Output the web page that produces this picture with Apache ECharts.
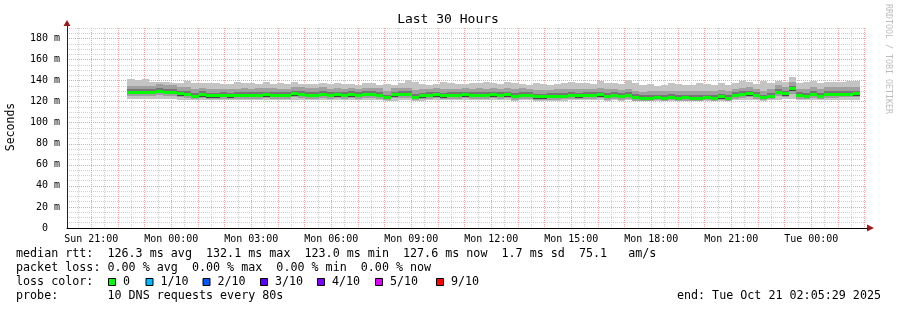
<!DOCTYPE html>
<html><head><meta charset="utf-8">
<script src="https://cdn.jsdelivr.net/npm/echarts@6/dist/echarts.min.js"></script>
<style>html,body{margin:0;padding:0;background:#fff}#c{width:897px;height:310px}</style>
</head><body><div id="c"></div>
<script>
// ---- time frame, in hours since Sun Oct 19 2025 00:00 ----
const viewStart = 20 + 5 / 60 + 29 / 3600;   // Sun 20:05:29
const viewEnd = viewStart + 30;              // Tue 02:05:29
const firstStep = 22 + 21 / 60 + 30 / 3600;  // Sun 22:21:30
const stepHours = 960 / 3600;
const dayNames = ['Sun', 'Mon', 'Tue'];

// ---- smoke data (ms), one value per step ----
const median = [128.8,128.8,128.8,128.8,130.0,129.0,129.0,127.6,127.0,125.4,
126.7,125.6,125.6,125.8,125.6,125.8,126.3,125.8,126.2,126.6,
126.2,126.0,125.9,127.6,127.2,126.3,126.3,127.0,126.0,126.5,
125.9,126.7,126.0,126.9,126.8,126.2,123.8,126.5,126.8,126.8,
124.2,125.5,125.8,126.6,125.5,126.0,125.8,126.4,125.9,126.3,
126.0,126.4,126.0,126.5,125.3,126.2,126.0,124.6,124.6,125.0,
125.2,125.4,126.0,125.6,126.0,125.8,126.5,125.3,125.8,125.0,
126.0,124.0,123.0,123.4,123.8,123.4,124.0,123.5,123.8,123.5,
123.5,123.8,123.4,124.5,123.5,125.8,126.8,127.6,126.0,123.8,
125.4,129.1,127.6,132.1,126.0,125.4,127.0,125.4,127.0,127.0,
127.3,127.3,127.6];
const smokeMax = [142,141,142,139,138.5,139,138,137.5,140,138,
137.5,138,138,136.5,137,139,138,138,137,139,
137,138,137,138.5,137,137,137,137.5,136.5,138,
137,137,136,138,137.5,136,137,136,138,140.5,
138.5,137,136,136.5,139,138,137,137,137.5,138,
139,138,137,139,138,137,136,138,137,136,
137,138,139,137.5,138,137,140,137.5,138,137,
140.5,138,136,137,135,136,138,137,136,136,
138,137,136,138,136,138,139.5,138.5,137,140,
138,140,139,143,138,139,140,138,139,139,
138.5,140,140];
const smokeHi1 = [135.3,135.3,135.3,135.3,136.5,135.5,135.5,134.1,133.5,131.9,
133.2,132.1,132.1,132.3,132.1,132.3,132.8,132.3,132.7,133.1,
132.7,132.5,132.4,134.1,133.7,132.8,132.8,133.5,132.5,133.0,
132.4,133.2,132.5,133.4,133.3,132.7,130.3,133.0,133.3,133.3,
130.7,132.0,132.3,133.1,132.0,132.5,132.3,132.9,132.4,132.8,
132.5,132.9,132.5,133.0,131.8,132.7,132.5,131.1,131.1,131.5,
131.7,131.9,132.5,132.1,132.5,132.3,133.0,131.8,132.3,131.5,
132.5,130.5,129.5,129.9,130.3,129.9,130.5,130.0,130.3,130.0,
130.0,130.3,129.9,131.0,130.0,132.3,133.3,134.1,132.5,130.3,
131.9,135.6,134.1,138.6,132.5,131.9,133.5,131.9,133.5,133.5,
133.8,133.8,134.1];
const smokeHi2 = [131.8,131.8,131.8,131.8,133.0,132.0,132.0,130.6,130.0,128.4,
129.7,128.6,128.6,128.8,128.6,128.8,129.3,128.8,129.2,129.6,
129.2,129.0,128.9,130.6,130.2,129.3,129.3,130.0,129.0,129.5,
128.9,129.7,129.0,129.9,129.8,129.2,126.8,129.5,129.8,129.8,
127.2,128.5,128.8,129.6,128.5,129.0,128.8,129.4,128.9,129.3,
129.0,129.4,129.0,129.5,128.3,129.2,129.0,127.6,127.6,128.0,
128.2,128.4,129.0,128.6,129.0,128.8,129.5,128.3,128.8,128.0,
129.0,127.0,126.0,126.4,126.8,126.4,127.0,126.5,126.8,126.5,
126.5,126.8,126.4,127.5,126.5,128.8,129.8,130.6,129.0,126.8,
128.4,132.1,130.6,135.1,129.0,128.4,130.0,128.4,130.0,130.0,
130.3,130.3,130.6];
const smokeLo2 = [127.0,127.0,127.0,127.0,128.2,127.2,127.2,125.8,125.2,123.6,
124.9,123.8,123.8,124.0,123.8,124.0,124.5,124.0,124.4,124.8,
124.4,124.2,124.1,125.8,125.4,124.5,124.5,125.2,124.2,124.7,
124.1,124.9,124.2,125.1,125.0,124.4,122.5,124.7,125.0,125.0,
122.7,123.7,124.0,124.8,123.7,124.2,124.0,124.6,124.1,124.5,
124.2,124.6,124.2,124.7,123.5,124.4,124.2,122.8,122.8,123.2,
123.4,123.6,124.2,123.8,124.2,124.0,124.7,123.5,124.0,123.2,
124.2,122.4,121.8,121.9,122.2,121.9,122.4,122.0,122.2,122.0,
122.0,122.2,121.9,122.8,122.0,124.0,125.0,125.8,124.2,122.4,
123.6,127.3,125.8,130.0,124.2,123.6,125.2,123.6,125.2,125.2,
125.5,125.5,125.8];
const smokeLo1 = [125.5,125.5,125.5,125.5,126.7,125.7,125.7,124.3,123.7,122.4,
123.4,122.3,122.3,122.5,122.3,122.5,123.0,122.5,122.9,123.3,
122.9,122.7,122.6,124.3,123.9,123.0,123.0,123.7,122.7,123.2,
122.6,123.4,122.7,123.6,123.5,122.9,121.6,123.2,123.5,123.5,
121.5,122.2,122.5,123.3,122.2,122.7,122.5,123.1,122.6,123.0,
122.7,123.1,122.7,123.2,122.0,122.9,122.7,121.5,121.5,121.7,
121.9,122.1,122.7,122.3,122.7,122.5,123.2,122.0,122.5,121.7,
122.7,121.1,121.0,121.0,121.3,121.0,121.3,121.0,121.0,121.0,
121.0,121.3,121.0,121.5,121.0,122.5,123.5,124.3,122.7,121.2,
122.1,125.8,124.3,127.5,122.7,122.1,123.7,122.1,123.7,123.7,
124.0,124.0,124.3];
const smokeMin = [122.5,122.5,122.5,122.5,123,122.5,122.5,122,122,122,
121.5,121.8,121.8,121.5,121.8,121.8,122,121.8,122,122,
121.8,121.5,121.5,122,122,121.8,121.8,122,121.8,121.8,
121.8,122,121.5,122,122,121.5,120.8,120.8,121.5,121.5,
120.8,121,121.5,121.8,121.3,121.5,121.3,121.8,121.5,121.5,
121.5,121.8,121.5,121.8,121,121.5,121.5,120.8,120.8,121,
121,121,121.5,121.3,121.5,121.3,121.5,121,121.3,121,
121.5,120.5,120.5,120.5,120.8,120.5,120.8,120.5,120.5,120.5,
120.5,120.8,120.5,121,120.5,121.5,122,122,121.3,120.8,
121.5,121.5,122.5,122.5,121.5,121.3,121.5,121.3,121.5,121.5,
121.5,121.5,121.8];

// ---- texts ----
const titleText = 'Last 30 Hours';
const yAxisName = 'Seconds';
const legendLines = [
  'median rtt:  126.3 ms avg  132.1 ms max  123.0 ms min  127.6 ms now  1.7 ms sd  75.1   am/s',
  'packet loss: 0.00 % avg  0.00 % max  0.00 % min  0.00 % now',
  'loss color:',
  'probe:       10 DNS requests every 80s'
];
const lossLabels = ['0', '1/10', '2/10', '3/10', '4/10', '5/10', '9/10'];
const lossColors = ['#00ff00', '#00b8ff', '#0059ff', '#5e00ff', '#7e00ff', '#dd00ff', '#ff0000'];
const endText = 'end: Tue Oct 21 02:05:29 2025';
const creditText = 'RRDTOOL / TOBI OETIKER';

const rows = median.map((m, i) => [firstStep + i * stepHours, smokeMin[i], smokeLo1[i], smokeLo2[i], m, smokeHi2[i], smokeHi1[i], smokeMax[i]]);

const MONO = '"DejaVu Sans Mono", monospace';
const pad = n => (n < 10 ? '0' : '') + n;

function hourAxis(step, color, withLabels) {
  return {
    type: 'value', min: viewStart, max: viewEnd, position: 'bottom',
    minInterval: step, maxInterval: step, splitNumber: Math.round(30 / step),
    axisLine: withLabels ? { show: true, lineStyle: { color: '#000', width: 1 } } : { show: false },
    axisTick: { show: false },
    axisLabel: withLabels ? {
      show: true, showMinLabel: false, showMaxLabel: false, margin: 6,
      fontFamily: MONO, fontSize: 10, color: '#000',
      formatter: v => { const h = Math.round(v * 60) / 60; const d = Math.floor(h / 24); const hh = Math.floor(h - d * 24); return dayNames[d] + ' ' + pad(hh) + ':00'; }
    } : { show: false },
    splitLine: { show: !!color, showMinLine: false, showMaxLine: false, lineStyle: { color: color || '#000', width: 1, type: [1, 1] } }
  };
}

const chart = echarts.init(document.getElementById('c'), null, { renderer: 'canvas' });

const graphics = [];
graphics.push({ type: 'text', x: 448, y: 20, style: { text: titleText, font: '13px ' + MONO, fill: '#000', textAlign: 'center', textVerticalAlign: 'middle' } });
graphics.push({ type: 'text', x: 11, y: 127, rotation: Math.PI / 2, style: { text: yAxisName, font: '11.5px ' + MONO, fill: '#000', textAlign: 'center', textVerticalAlign: 'middle' } });
graphics.push({ type: 'text', x: 888, y: 59, rotation: -Math.PI / 2, style: { text: creditText, font: '8.3px ' + MONO, fill: '#bdbdbd', textAlign: 'center', textVerticalAlign: 'middle' } });
const lineY = [254, 268, 282, 296];
legendLines.forEach((t, i) => graphics.push({ type: 'text', x: 16, y: lineY[i], style: { text: t, font: '11.7px ' + MONO, fill: '#000', textVerticalAlign: 'middle' } }));
const boxX = [108, 145.5, 202.5, 260, 317, 375, 436];
lossLabels.forEach((t, i) => {
  graphics.push({ type: 'rect', shape: { x: boxX[i] + 0.5, y: 278.5, width: 7, height: 7 }, style: { fill: lossColors[i], stroke: '#000', lineWidth: 1 } });
  graphics.push({ type: 'text', x: boxX[i] + 15, y: 282, style: { text: t, font: '11.7px ' + MONO, fill: '#000', textVerticalAlign: 'middle' } });
});
graphics.push({ type: 'text', x: 881, y: 296, style: { text: endText, font: '11.7px ' + MONO, fill: '#000', textAlign: 'right', textVerticalAlign: 'middle' } });
// axis arrows
graphics.push({ type: 'polygon', shape: { points: [[63.5, 26], [70.5, 26], [67, 20]] }, style: { fill: '#9b1b1b' } });
graphics.push({ type: 'line', shape: { x1: 67.5, y1: 26, x2: 67.5, y2: 28 }, style: { stroke: '#222', lineWidth: 1 } });
graphics.push({ type: 'polygon', shape: { points: [[867, 224.5], [867, 231.5], [874, 228]] }, style: { fill: '#9b1b1b' } });

chart.setOption({
  animation: false,
  backgroundColor: '#fff',
  grid: { left: 67, right: 30, top: 28, bottom: 82, containLabel: false },
  xAxis: [hourAxis(0.5, '#cfcfcf', false), hourAxis(1, '#f2a0a0', false), hourAxis(3, null, true)],
  yAxis: [
    { type: 'value', min: 0, max: 190, interval: 5, axisLine: { show: false }, axisTick: { show: false }, axisLabel: { show: false },
      splitLine: { show: true, showMinLine: false, lineStyle: { color: '#cfcfcf', width: 1, type: [1, 1] } } },
    { type: 'value', min: 0, max: 190, interval: 20, position: 'left',
      axisLine: { show: true, lineStyle: { color: '#222', width: 1 } }, axisTick: { show: false },
      axisLabel: { show: true, showMaxLabel: false, margin: 7, fontFamily: MONO, fontSize: 10, color: '#000',
        formatter: v => v === 0 ? '0  ' : v + ' m' },
      splitLine: { show: true, showMinLine: false, showMaxLine: false, lineStyle: { color: '#f2a0a0', width: 1, type: [1, 1] } } }
  ],
  series: [{
    type: 'custom', xAxisIndex: 0, yAxisIndex: 0, clip: true,
    data: rows,
    encode: { x: 0, y: [1, 7] },
    renderItem: (params, api) => {
      const t = api.value(0);
      const x0 = Math.round(api.coord([t, 0])[0]);
      const x1 = Math.round(api.coord([t + stepHours, 0])[0]);
      const yy = v => Math.round(api.coord([t, v])[1]);
      const band = (lo, hi, fill) => ({ type: 'rect', shape: { x: x0, y: yy(hi), width: x1 - x0, height: Math.max(1, yy(lo) - yy(hi)) }, style: { fill } });
      const ym = api.coord([t, api.value(4)])[1];
      return { type: 'group', children: [
        band(api.value(1), api.value(7), '#c4c4c4'),
        band(api.value(2), api.value(6), '#a0a0a0'),
        band(api.value(3), api.value(5), '#767676'),
        band(api.value(3), api.value(4), '#474747'),
        { type: 'rect', shape: { x: x0, y: Math.round(ym - 1.5), width: x1 - x0, height: 3 }, style: { fill: '#00ff00' } }
      ] };
    }
  }],
  graphic: graphics
});
</script>
</body></html>
